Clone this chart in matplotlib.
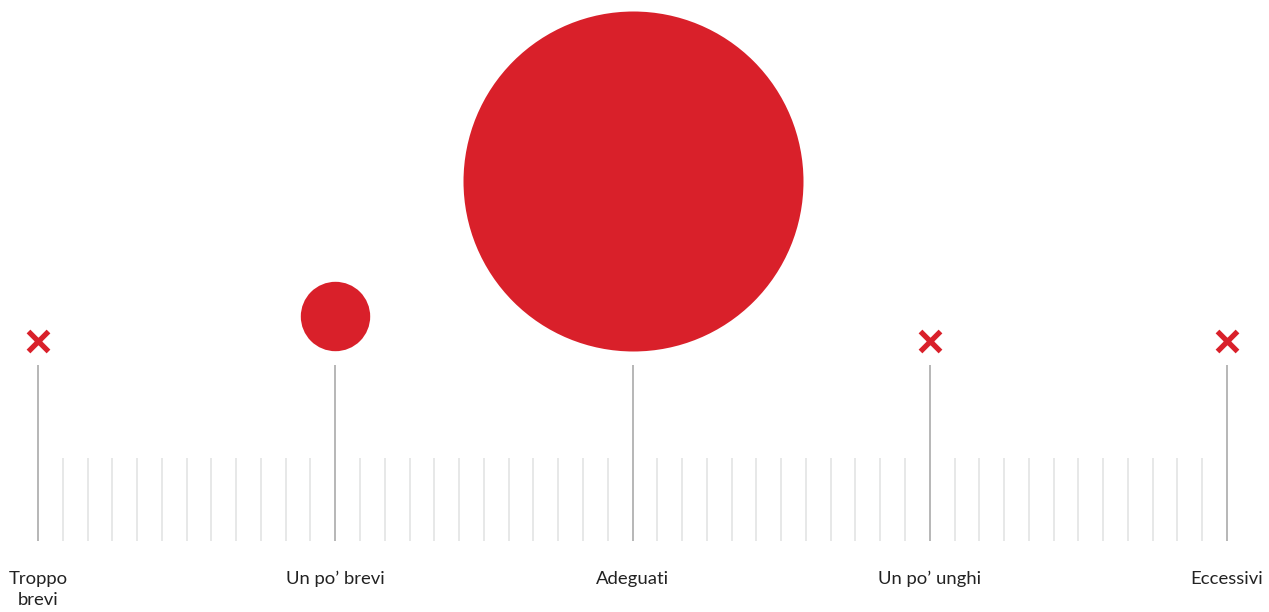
import numpy as np
import matplotlib
matplotlib.use('Agg')
import matplotlib.pyplot as plt

# data
categories = ['Troppo\nbrevi', "Un po\u2019 brevi", 'Adeguati', "Un po\u2019 unghi", 'Eccessivi']
values = [0, 4, 96, 0, 0]

#style
red = '#d9202a'
major_col = '#aaaaaa'
minor_col = '#e0e2e2'
dpi = 100
W, H = 1269, 612
k = 17.35  # px of radius per sqrt(value)

fig = plt.figure(figsize=(W/dpi, H/dpi), dpi=dpi)
x0, x1 = 38, 1227
ax = fig.add_axes([x0/W, 0, (x1 - x0)/W, 1])
ax.set_xlim(0, len(categories) - 1)
ax.set_ylim(H, 0)  # y in pixels from top
ax.axis('off')

base, major_top, minor_top = 541, 365, 458
circle_bottom, cross_y = 351, 341

# minor ticks
n = len(categories) - 1
minor = [i/12 for i in range(n*12 + 1) if i % 12 != 0]
ax.vlines(minor, minor_top, base, color=minor_col, lw=1.1, clip_on=False)
# major ticks
xs = np.arange(len(categories))
ax.vlines(xs, major_top, base, color=major_col, lw=1.2, clip_on=False)

for x, v, lab in zip(xs, values, categories):
    if v > 0:
        r = k*np.sqrt(v)
        s = (2*r*72/dpi)**2
        ax.scatter([x], [circle_bottom - r], s=s, color=red, linewidths=0, clip_on=False, zorder=3)
    else:
        ax.plot([x], [cross_y], marker='x', ms=14, mew=3.8, color=red,
                solid_capstyle='round', clip_on=False, zorder=3)
    ax.text(x, 571, lab, ha='center', va='top', fontsize=13.3, family='Lato',
            color='#222222', linespacing=1.4)

fig.savefig('out.png', dpi=dpi)
